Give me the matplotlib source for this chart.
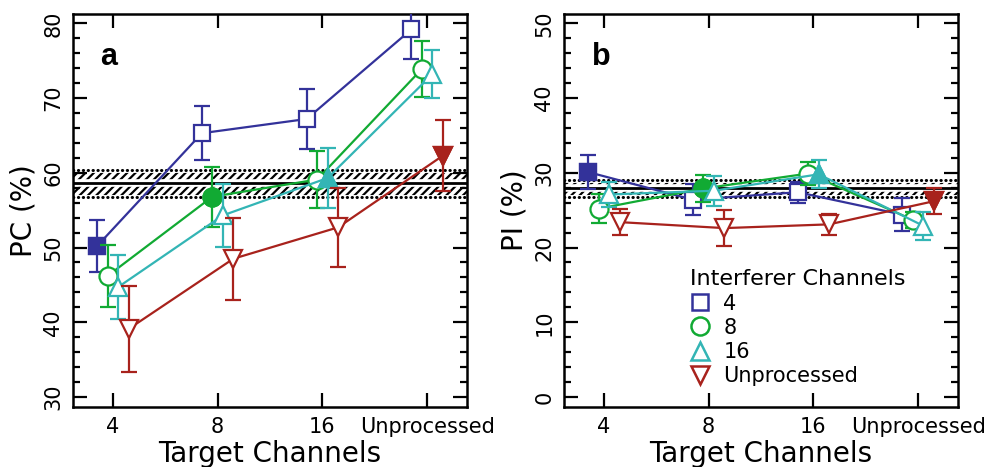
import matplotlib
matplotlib.use("Agg")
import matplotlib.pyplot as plt
import numpy as np
from matplotlib.ticker import MultipleLocator
from matplotlib.lines import Line2D

# ---------------- data ----------------
target_labels = ['4', '8', '16', 'Unprocessed']
interferer_labels = ['4', '8', '16', 'Unprocessed']

# Panel a: PC (%)
pc_4 = [50.2, 65.3, 67.2, 79.2]
pc_4_err = [3.5, 3.6, 4.0, 4.0]
pc_8 = [46.2, 56.8, 59.1, 73.9]
pc_8_err = [4.1, 4.0, 3.8, 3.8]
pc_16 = [44.7, 54.3, 59.3, 73.2]
pc_16_err = [4.3, 4.2, 4.0, 3.2]
pc_un = [39.1, 48.5, 52.7, 62.3]
pc_un_err = [5.7, 5.5, 5.3, 4.8]
pc_band = [56.8, 58.6, 60.4]   # lower, mean, upper

# Panel b: PI (%)
pi_4 = [30.1, 26.4, 27.4, 24.4]
pi_4_err = [2.3, 2.1, 1.4, 2.2]
pi_8 = [25.2, 27.9, 29.9, 23.7]
pi_8_err = [1.9, 1.8, 1.5, 1.1]
pi_16 = [27.1, 27.6, 29.8, 22.9]
pi_16_err = [1.7, 2.0, 1.85, 1.9]
pi_un = [23.4, 22.6, 23.1, 26.2]
pi_un_err = [1.7, 2.45, 1.45, 1.7]
pi_band = [26.7, 27.9, 29.1]

colors = ['#33329A', '#11AA33', '#33B5B5', '#A8221C']
markers = ['s', 'o', '^', 'v']
msizes = [12, 13, 13, 13]
offsets = [-0.15, -0.05, 0.05, 0.15]

plt.rcParams['font.family'] = ['DejaVu Sans']
plt.rcParams['hatch.linewidth'] = 1.6

fig = plt.figure(figsize=(9.89, 4.67), dpi=100)
W, H = 989.0, 467.0
ax_a = fig.add_axes([73 / W, 1 - 407 / H, 394 / W, 393 / H])
ax_b = fig.add_axes([564 / W, 1 - 407 / H, 394 / W, 393 / H])


def draw_band(ax, band):
    lo, mid, hi = band
    xl = (-0.38, 3.38)
    ax.fill_between(xl, lo, hi, facecolor='white', edgecolor='black',
                    hatch='////', linewidth=0, zorder=1)
    for yv in (lo, hi):
        ax.plot(xl, [yv, yv], color='white', lw=3.5, zorder=1.5)
        ax.plot(xl, [yv, yv], color='black', lw=2.2,
                linestyle=(0, (0.1, 1.5)), dash_capstyle='round', zorder=1.6)
    ax.plot(xl, [mid, mid], color='white', lw=5.5, zorder=1.5)
    ax.plot(xl, [mid, mid], color='black', lw=2.0, zorder=1.6)


def draw_panel(ax, series, errs, band, ylim, yticks, ylabel, letter):
    draw_band(ax, band)
    x = np.arange(len(target_labels))
    for i, (vals, e) in enumerate(zip(series, errs)):
        xi = x + offsets[i]
        ax.errorbar(xi, vals, yerr=e, color=colors[i], marker=markers[i],
                    ms=msizes[i], mfc='white', mec=colors[i], mew=1.6,
                    lw=1.6, elinewidth=1.6, capsize=6, capthick=1.6,
                    zorder=3 + i)
        # filled marker where interferer == target
        ax.plot([xi[i]], [vals[i]], marker=markers[i], ms=msizes[i],
                mfc=colors[i], mec=colors[i], mew=1.6, ls='none',
                zorder=3.5 + i)
    ax.set_xlim(-0.38, 3.38)
    ax.set_ylim(*ylim)
    ax.set_xticks(x)
    ax.set_xticklabels(target_labels, fontsize=15)
    ax.set_yticks(yticks)
    ax.set_yticklabels([str(t) for t in yticks], fontsize=15, rotation=90,
                       va='center')
    ax.yaxis.set_minor_locator(MultipleLocator(2))
    ax.tick_params(axis='both', which='major', direction='in', length=10,
                   width=1.6, top=True, right=True)
    ax.tick_params(axis='y', which='minor', direction='in', length=5,
                   width=1.6, left=True, right=True)
    ax.tick_params(axis='x', pad=7)
    ax.tick_params(axis='y', pad=7)
    for s in ax.spines.values():
        s.set_linewidth(1.8)
    ax.set_xlabel('Target Channels', fontsize=20, labelpad=2)
    ax.set_ylabel(ylabel, fontsize=20, labelpad=4)
    ax.text(0.07, 0.87, letter, transform=ax.transAxes, fontsize=22,
            fontweight='bold', family='Liberation Sans', va='baseline',
            ha='left')


draw_panel(ax_a, [pc_4, pc_8, pc_16, pc_un],
           [pc_4_err, pc_8_err, pc_16_err, pc_un_err], pc_band,
           (28.66, 81.25), [30, 40, 50, 60, 70, 80], 'PC (%)', 'a')
draw_panel(ax_b, [pi_4, pi_8, pi_16, pi_un],
           [pi_4_err, pi_8_err, pi_16_err, pi_un_err], pi_band,
           (-1.34, 51.25), [0, 10, 20, 30, 40, 50], 'PI (%)', 'b')

handles = [Line2D([], [], ls='none', marker=markers[i], ms=msizes[i],
                  mfc='white', mec=colors[i], mew=1.8)
           for i in range(4)]
leg = ax_b.legend(handles, interferer_labels, title='Interferer Channels',
                  loc='upper left', bbox_to_anchor=(0.32, 0.35),
                  frameon=False, fontsize=15, title_fontsize=16,
                  handlelength=1.0, handletextpad=0.6, labelspacing=0.2,
                  borderpad=0, borderaxespad=0)
leg._legend_box.align = 'left'

fig.savefig('out.png', dpi=100)
